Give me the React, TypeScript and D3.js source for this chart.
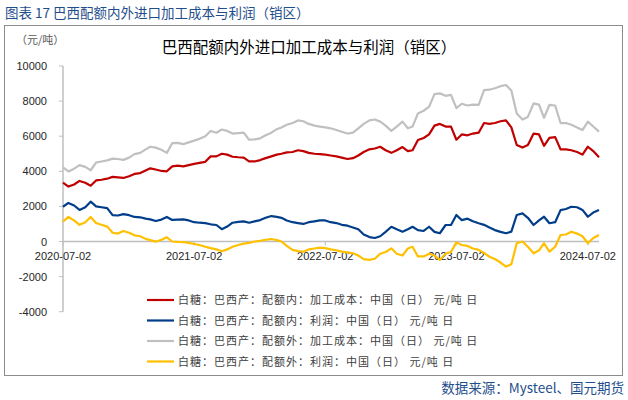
import React from "react";
import * as d3 from "d3";

const startDate = "2020-07-02";
const pointCount = 99; // half-month steps
const tickLabels = ["2020-07-02", "2021-07-02", "2022-07-02", "2023-07-02", "2024-07-02"];
const yTicks = [-4000, -2000, 0, 2000, 4000, 6000, 8000, 10000];

const costIn = [3350, 3130, 3250, 3450, 3350, 3180, 3480, 3520, 3580, 3680, 3650, 3620, 3720, 3850, 3900, 4050, 4170, 4100, 4020, 4000,
  4280, 4320, 4280, 4350, 4420, 4480, 4540, 4850, 4850, 5000, 4950, 4830, 4800, 4780, 4570, 4560, 4640, 4750, 4850, 4950,
  5000, 5080, 5100, 5200, 5150, 5050, 5000, 4980, 4950, 4900, 4850, 4780, 4700, 4750, 4900, 5100, 5250, 5300, 5400, 5200,
  5050, 5200, 5380, 5150, 5200, 5780, 5900, 6100, 6600, 6700, 6550, 6550, 5800, 6100, 6050, 6150, 6200, 6750, 6700, 6750,
  6850, 6900, 6500, 5500, 5350, 5500, 6150, 6100, 5450, 5900, 5950, 5250, 5250, 5200, 5100, 4950, 5400, 5150, 4800];
const profitIn = [1980, 2200, 2050, 1800, 1950, 2270, 2000, 1950, 1900, 1500, 1480, 1560, 1500, 1400, 1380, 1300, 1260, 1170, 1250, 1400,
  1230, 1250, 1260, 1200, 1100, 1070, 1050, 980, 940, 700, 850, 1070, 1120, 1150, 1070, 1150, 1220, 1350, 1450, 1400,
  1350, 1200, 1100, 1050, 1000, 1100, 1150, 1200, 1200, 1100, 1050, 950, 900, 800, 700, 400, 250, 200, 300, 550,
  840, 700, 560, 700, 840, 650, 600, 840, 550, 470, 940, 940, 1510, 1220, 1300, 1150, 1040, 950, 800, 650,
  550, 470, 560, 1510, 1600, 1350, 940, 1200, 1410, 1040, 1100, 1790, 1850, 1980, 1950, 1800, 1410, 1650, 1790];
const costOut = [4230, 3990, 4150, 4350, 4250, 4060, 4500, 4560, 4620, 4720, 4700, 4650, 4780, 4980, 5050, 5250, 5400, 5350, 5230, 5050,
  5600, 5620, 5550, 5650, 5750, 5850, 6000, 6300, 6200, 6380, 6300, 6150, 6180, 6200, 5800, 5820, 5880, 6050, 6200, 6400,
  6500, 6650, 6750, 6900, 6850, 6700, 6600, 6550, 6500, 6450, 6350, 6250, 6150, 6200, 6450, 6700, 6900, 6950, 6830, 6600,
  6300, 6550, 6830, 6450, 6550, 7300, 7450, 7680, 8400, 8440, 8300, 8350, 7600, 7850, 7750, 7800, 7780, 8630, 8650, 8730,
  8850, 8920, 8600, 7300, 6950, 7100, 7870, 7800, 7050, 7780, 7750, 6750, 6750, 6650, 6500, 6350, 6830, 6550, 6260];
const profitOut = [1130, 1400, 1200, 950, 1100, 1400, 1050, 950, 850, 500, 450, 600, 500, 350, 300, 150, 80, -10, 100, 240,
  0, -20, -30, -80, -140, -200, -300, -380, -450, -560, -450, -300, -200, -120, -80, 0, 40, 100, 140, 80,
  0, -250, -480, -550, -580, -450, -400, -350, -380, -450, -500, -580, -620, -670, -800, -1000, -1050, -980, -700, -600,
  -390, -700, -800, -400, -300, -850, -850, -700, -800, -1050, -700, -600, -50, -200, -250, -400, -480, -650, -870, -1000,
  -1200, -1430, -1300, -100, 0, -300, -670, -500, -100, -580, -300, 370, 400, 560, 450, 300, -100, 200, 370];

const seriesNames = [
  "白糖：巴西产：配额内：加工成本：中国（日） 元/吨 日",
  "白糖：巴西产：配额内：利润：中国（日） 元/吨 日",
  "白糖：巴西产：配额外：加工成本：中国（日） 元/吨 日",
  "白糖：巴西产：配额外：利润：中国（日） 元/吨 日",
];
const seriesColors = ["#c00000", "#003e8a", "#c0c0c0", "#ffc000"];
const seriesValues = [costIn, profitIn, costOut, profitOut];

export default function App() {
  const parse = d3.timeParse("%Y-%m-%d");
  const d0 = parse(startDate) as Date;
  const dates = d3.range(pointCount).map((k) => d3.timeDay.offset(d3.timeMonth.offset(d0, Math.floor(k / 2)), (k % 2) * 15));
  const x = d3.scaleTime().domain([d0, dates[dates.length - 1]]).range([63, 599]);
  const y = d3.scaleLinear().domain([-4000, 10000]).range([311.7, 66]);
  const line = d3
    .line<number>()
    .x((_, i) => x(dates[i]))
    .y((v) => y(v));
  const font = "'Liberation Sans', Arial, sans-serif";
  const cjk = "'Noto Sans CJK SC', sans-serif";
  const order = [2, 0, 1, 3];
  return (
    <svg width={628} height={400} style={{ position: "absolute", left: 0, top: 0, background: "#fff" }}>
      <text x={5} y={18} fontSize={13.5} fill="#1f4e8c" fontFamily={cjk}>
        图表 17 巴西配额内外进口加工成本与利润（销区）
      </text>
      <rect x={4.5} y={25.5} width={618} height={350} fill="none" stroke="#8c8c8c" strokeWidth={1} />
      <text x={16} y={44} fontSize={11} fill="#595959" fontFamily={cjk}>
        （元/吨）
      </text>
      <text x={309} y={53} fontSize={15.5} fill="#000" textAnchor="middle" fontFamily={cjk}>
        巴西配额内外进口加工成本与利润（销区）
      </text>
      <line x1={63} x2={63} y1={y(10000)} y2={y(-4000)} stroke="#bfbfbf" strokeWidth={1.5} />
      {yTicks.map((t) => (
        <g key={t}>
          <line x1={59} x2={63} y1={y(t)} y2={y(t)} stroke="#bfbfbf" strokeWidth={1} />
          <text x={47} y={y(t) + 4} fontSize={11} textAnchor="end" fill="#262626" fontFamily={font}>
            {t}
          </text>
        </g>
      ))}
      <line x1={63} x2={599} y1={y(0)} y2={y(0)} stroke="#bfbfbf" strokeWidth={1.5} />
      {tickLabels.map((t) => {
        const xx = x(parse(t) as Date);
        return (
          <g key={t}>
            <line x1={xx} x2={xx} y1={y(0)} y2={y(0) + 4} stroke="#bfbfbf" strokeWidth={1} />
            <text x={xx} y={y(0) + 18} fontSize={11} textAnchor="middle" fill="#262626" fontFamily={font}>
              {t}
            </text>
          </g>
        );
      })}
      {order.map((i) => (
        <path
          key={i}
          d={line(seriesValues[i]) || ""}
          fill="none"
          stroke={seriesColors[i]}
          strokeWidth={2.2}
          strokeLinejoin="round"
        />
      ))}
      {seriesNames.map((n, i) => {
        const yy = 300 + i * 20.5;
        return (
          <g key={n}>
            <line x1={147} x2={174} y1={yy} y2={yy} stroke={seriesColors[i]} strokeWidth={2.2} />
            <text x={178} y={yy + 4} fontSize={11} letterSpacing={1} fill="#404040" fontFamily={cjk}>
              {n}
            </text>
          </g>
        );
      })}
      <text x={624} y={393} fontSize={13.5} textAnchor="end" fill="#1f4e8c" fontFamily={cjk}>
        数据来源：Mysteel、国元期货
      </text>
    </svg>
  );
}
